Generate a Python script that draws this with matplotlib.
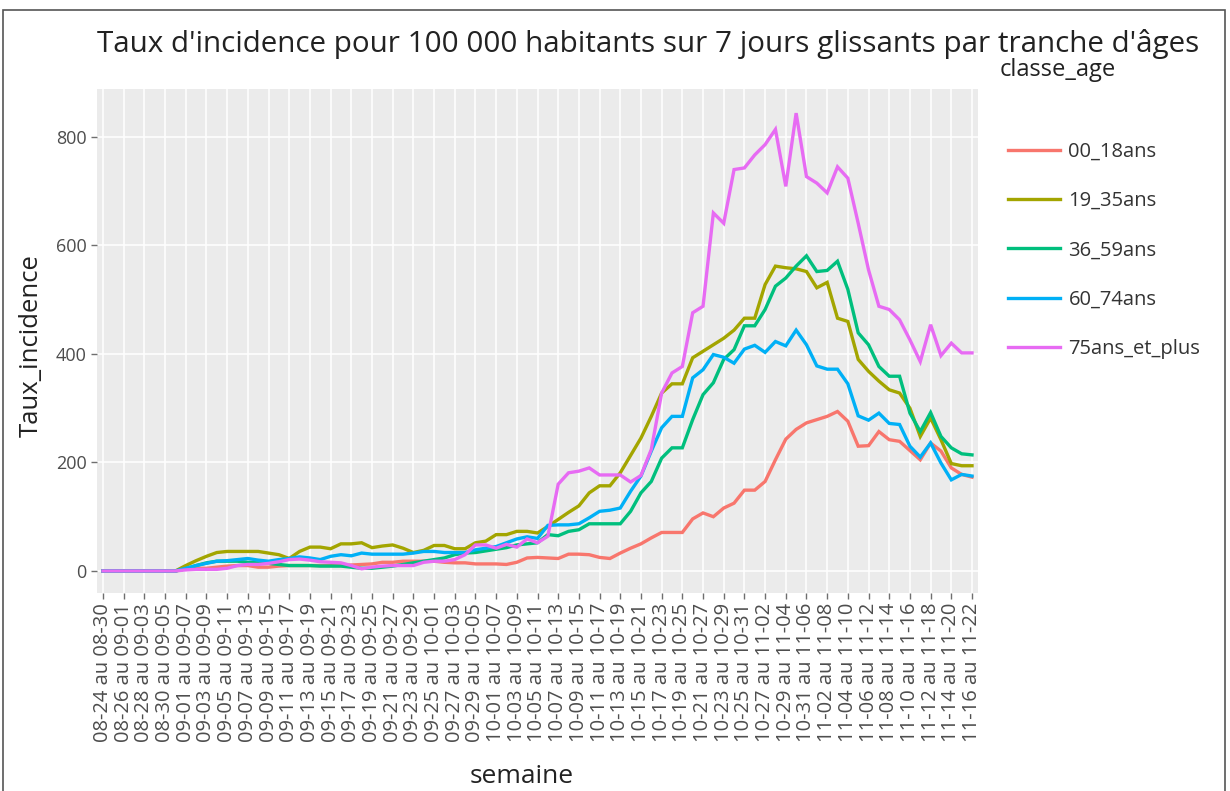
import numpy as np
import pandas as pd
import matplotlib
matplotlib.use("Agg")
import matplotlib.pyplot as plt
from matplotlib.lines import Line2D
from matplotlib.patches import Rectangle

plt.rcParams['font.family'] = ['Open Sans', 'DejaVu Sans']

# rolling 7-day windows, end dates 08-30 .. 11-22
ends = pd.date_range("2020-08-30", "2020-11-22", freq="D")
semaine = [f"{(d - pd.Timedelta(days=6)).strftime('%m-%d')} au {d.strftime('%m-%d')}" for d in ends]

classes = ["00_18ans", "19_35ans", "36_59ans", "60_74ans", "75ans_et_plus"]
colors = ["#F8766D", "#A3A500", "#00BF7D", "#00B0F6", "#E76BF3"]

age_00_18 = [0, 0, 0, 0, 0, 0, 0, 0,
             4, 5, 5, 7, 9, 10, 10, 7, 7, 9, 10, 10, 10, 10, 10, 10, 11, 12, 13, 16, 16, 18,
             18, 18, 18, 16, 15, 15, 13, 13,
             13, 12, 16, 24, 25, 24, 23, 31, 31, 30, 25, 23, 33, 42, 50, 61, 71, 71, 71, 96,
             107, 100, 116, 125, 149, 149, 165, 205, 243, 261, 273, 279, 285, 294, 276, 230,
             231, 257, 242, 239, 222, 205, 236, 221, 190, 178, 173]
age_19_35 = [0, 0, 0, 0, 0, 0, 0, 0,
             10, 19, 27, 34, 36, 36, 36, 36, 33, 30, 23, 36, 44, 44, 41, 50, 50, 52, 43, 46, 48, 42,
             34, 38, 47, 47, 41, 41, 52, 55,
             67, 67, 73, 73, 70, 82, 95, 108, 120, 144, 157, 157, 181, 213, 245, 285, 328, 345,
             345, 393, 405, 417, 429, 444, 466, 466, 528, 562, 559, 557, 552, 522, 532, 466,
             460, 390, 368, 350, 334, 328, 300, 248, 282, 242, 198, 194, 194]
age_36_59 = [0, 0, 0, 0, 0, 0, 0, 0,
             4, 10, 15, 18, 18, 18, 16, 15, 14, 12, 10, 10, 10, 9, 9, 9, 7, 5, 5, 7, 9, 12,
             15, 18, 21, 24, 30, 33, 34, 37,
             40, 43, 48, 50, 52, 67, 65, 73, 76, 87, 87, 87, 87, 110, 144, 165, 208, 227, 227,
             279, 325, 347, 390, 408, 452, 452, 482, 525, 540, 562, 581, 552, 554, 571, 519,
             439, 417, 377, 359, 359, 291, 257, 292, 248, 227, 216, 214]
age_60_74 = [0, 0, 0, 0, 0, 0, 0, 0,
             5, 10, 14, 18, 19, 21, 23, 20, 18, 21, 23, 26, 24, 21, 27, 30, 28, 33, 31, 31, 31, 31,
             33, 36, 36, 34, 34, 34, 39, 42,
             45, 52, 59, 63, 60, 84, 85, 85, 87, 98, 110, 112, 116, 147, 175, 221, 264, 285, 285,
             356, 371, 399, 394, 383, 409, 416, 403, 423, 415, 444, 417, 378, 372, 372, 345,
             286, 278, 291, 272, 270, 230, 210, 236, 199, 168, 178, 175]
age_75_plus = [0, 0, 0, 0, 0, 0, 0, 0,
               2, 3, 3, 3, 5, 10, 12, 12, 14, 17, 21, 22, 20, 17, 16, 15, 10, 4, 7, 9, 10, 10,
               10, 16, 18, 18, 21, 30, 48, 48,
               42, 49, 44, 59, 52, 64, 160, 181, 184, 190, 177, 177, 177, 164, 176, 224, 328, 365,
               377, 476, 488, 660, 641, 740, 743, 767, 786, 814, 709, 844, 727, 715, 697, 745,
               724, 641, 555, 488, 482, 463, 426, 386, 454, 397, 420, 402, 402]

series = [age_00_18, age_19_35, age_36_59, age_60_74, age_75_plus]

fig = plt.figure(figsize=(12.3, 7.91), dpi=100)
W, H = 1230, 791
ax = fig.add_axes([97 / W, 1 - 593 / H, (978 - 97) / W, (593 - 89) / H])
ax.set_facecolor("#EBEBEB")

x = np.arange(len(semaine))
for vals, c in zip(series, colors):
    ax.plot(x, vals, color=c, lw=2.4, solid_joinstyle="miter")

ax.set_xlim(-0.58, 84.58)
ax.set_ylim(-40.6, 888.5)
ax.set_xticks(x[::2])
ax.set_xticklabels(semaine[::2], rotation=90, fontsize=14.5, color="#4D4D4D")
ax.set_yticks([0, 200, 400, 600, 800])
ax.tick_params(axis="y", labelsize=13, labelcolor="#4D4D4D", color="#6F6F6F", length=4, width=1)
ax.tick_params(axis="x", color="#6F6F6F", length=4, width=1, pad=3)
ax.grid(True, color="white", lw=1.1)
ax.set_axisbelow(True)
for s in ax.spines.values():
    s.set_visible(False)

ax.set_ylabel("Taux_incidence", fontsize=18.5, color="#222222")
ax.yaxis.set_label_coords(-0.061, 0.49)
ax.set_xlabel("semaine", fontsize=19, color="#222222")
ax.xaxis.set_label_coords(0.482, -0.34)

fig.text(97 / W, 1 - 44 / H, "Taux d'incidence pour 100 000 habitants sur 7 jours glissants par tranche d'âges",
         fontsize=21.3, color="#222222", ha="left", va="center")
fig.text(1000 / W, 1 - 70 / H, "classe_age", fontsize=17, color="#222222", ha="left", va="center")

handles = [Line2D([0], [0], color=c, lw=2.4) for c in colors]
fig.legend(handles, classes, loc="upper left", bbox_to_anchor=(1008 / W, 1 - 142 / H),
           frameon=False, fontsize=14.5, handlelength=2.6, handletextpad=0.4,
           labelspacing=1.45, borderpad=0, borderaxespad=0, labelcolor="#333333")

# screenshot frame
fig.patches.append(Rectangle((3 / W, -0.05), (1225 - 3) / W, 1 - 10 / H + 0.05,
                             transform=fig.transFigure, fill=False, ec="#555555", lw=1.2))

fig.savefig("out.png", dpi=100)
